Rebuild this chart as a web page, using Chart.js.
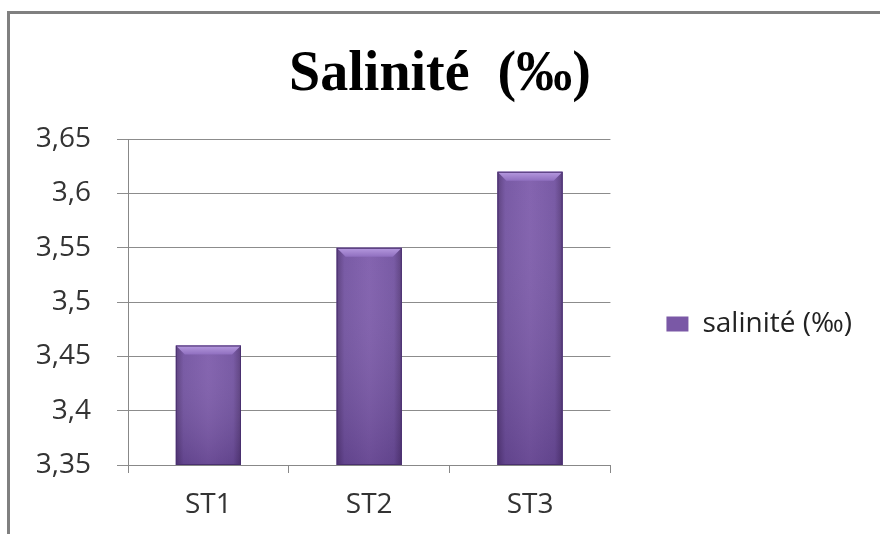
<!DOCTYPE html>
<html>
<head>
<meta charset="utf-8">
<script src="https://cdn.jsdelivr.net/npm/chart.js@4"></script>
<style>
  html, body { margin: 0; padding: 0; background: #fff; }
  #wrap { position: relative; width: 880px; height: 534px; }
  #frame { position: absolute; left: 7px; top: 11px; right: 0; bottom: 0;
           border-top: 3px solid #808080; border-left: 3px solid #808080; pointer-events: none; }
</style>
</head>
<body>
<div id="wrap">
  <canvas id="c" width="880" height="534"></canvas>
  <div id="frame"></div>
</div>
<script>
const chartTitle = 'Salinité  (‰)';
const seriesName = 'salinité (‰)';
const categories = ['ST1', 'ST2', 'ST3'];
const salinity = [3.46, 3.55, 3.62];
const yTicks = [3.35, 3.4, 3.45, 3.5, 3.55, 3.6, 3.65];
const yTickLabels = ['3,35', '3,4', '3,45', '3,5', '3,55', '3,6', '3,65'];

const LEGEND_SHIFT_Y = 57;

const legendShift = {
  id: 'legendShift',
  afterLayout(chart) {
    const lg = chart.legend;
    if (lg) { lg.top += LEGEND_SHIFT_Y; lg.bottom += LEGEND_SHIFT_Y; }
  }
};

const bevelPlugin = {
  id: 'bevel',
  afterDatasetsDraw(chart) {
    const ctx = chart.ctx;
    const ca = chart.chartArea;
    ctx.save();
    ctx.beginPath();
    ctx.rect(ca.left, ca.top, ca.right - ca.left, ca.bottom - ca.top);
    ctx.clip();
    chart.getDatasetMeta(0).data.forEach(el => {
      const p = el.getProps(['x', 'y', 'base', 'width'], true);
      const l = p.x - p.width / 2, r = p.x + p.width / 2, t = p.y;
      const b = Math.min(p.base, ca.bottom);
      const bv = 9;
      const g = ctx.createLinearGradient(l, 0, r, 0);
      g.addColorStop(0, '#553879');
      g.addColorStop(0.12, '#7151a0');
      g.addColorStop(0.5, '#7d5bab');
      g.addColorStop(0.88, '#7151a0');
      g.addColorStop(1, '#553879');
      ctx.fillStyle = g;
      ctx.fillRect(l, t, r - l, b - t);
      const gv = ctx.createLinearGradient(0, t, 0, b);
      gv.addColorStop(0, 'rgba(255,255,255,0.05)');
      gv.addColorStop(1, 'rgba(40,20,70,0.22)');
      ctx.fillStyle = gv;
      ctx.fillRect(l, t, r - l, b - t);
      const gt = ctx.createLinearGradient(0, t, 0, t + bv);
      gt.addColorStop(0, '#b79be0');
      gt.addColorStop(1, '#8f6fbf');
      ctx.fillStyle = gt;
      ctx.beginPath();
      ctx.moveTo(l, t); ctx.lineTo(r, t); ctx.lineTo(r - bv, t + bv); ctx.lineTo(l + bv, t + bv); ctx.closePath();
      ctx.fill();
      ctx.strokeStyle = '#4a3070';
      ctx.lineWidth = 1;
      ctx.strokeRect(l + 0.5, t + 0.5, r - l - 1, b - t - 1);
    });
    ctx.restore();
  }
};

new Chart(document.getElementById('c'), {
  type: 'bar',
  data: {
    labels: categories,
    datasets: [{
      label: seriesName,
      data: salinity,
      backgroundColor: '#7a58a6',
      borderColor: '#5a3d82',
      borderWidth: 0,
      barPercentage: 0.405,
      categoryPercentage: 1
    }]
  },
  options: {
    responsive: false,
    animation: false,
    layout: { padding: { left: 18, right: 18, top: 0, bottom: 0 } },
    plugins: {
      tooltip: { enabled: false },
      title: {
        display: true,
        text: chartTitle,
        color: '#000',
        font: { family: 'Liberation Serif', size: 56, weight: 'bold', lineHeight: 1.2 },
        padding: { top: 42, bottom: 30 }
      },
      legend: {
        position: 'right',
        maxWidth: 269,
        labels: {
          boxWidth: 22,
          boxHeight: 15,
          padding: 56,
          color: '#222',
          font: { family: 'Open Sans', size: 28 }
        }
      }
    },
    scales: {
      x: {
        afterFit(scale) { scale.height = 69; },
        grid: { drawOnChartArea: false, drawTicks: true, tickLength: 8, color: '#888', offset: true },
        border: { display: true, color: '#888', width: 1 },
        ticks: { color: '#333', padding: 15, font: { family: 'Open Sans', size: 28 } }
      },
      y: {
        min: 3.35,
        max: 3.65,
        afterFit(scale) { scale.width = 110; },
        afterBuildTicks(scale) { scale.ticks = yTicks.map(v => ({ value: v })); },
        grid: { color: '#8c8c8c', lineWidth: 1, tickLength: 11 },
        border: { display: true, color: '#888', width: 1 },
        ticks: {
          color: '#333',
          padding: 26,
          font: { family: 'Open Sans', size: 28 },
          callback(value) {
            const i = yTicks.findIndex(v => Math.abs(v - value) < 1e-9);
            return i >= 0 ? yTickLabels[i] : '';
          }
        }
      }
    }
  },
  plugins: [legendShift, bevelPlugin]
});
</script>
</body>
</html>
